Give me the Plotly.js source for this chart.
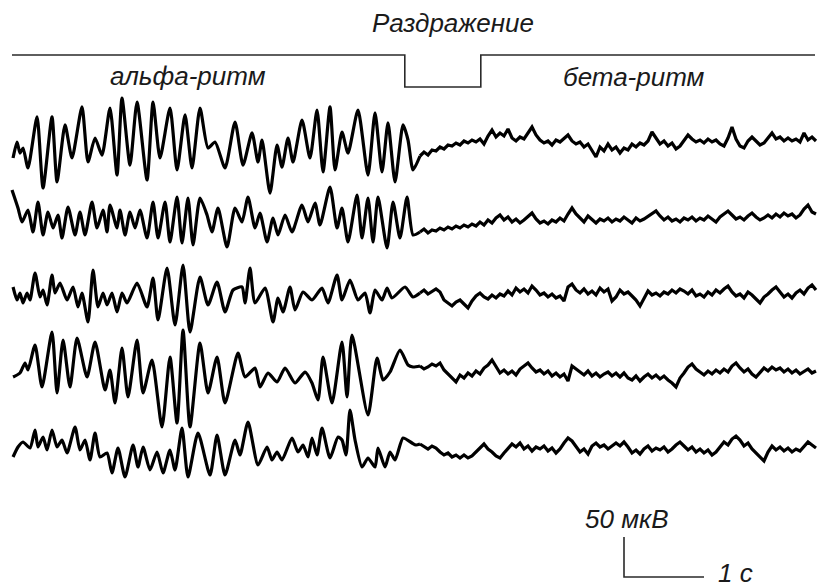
<!DOCTYPE html>
<html>
<head>
<meta charset="utf-8">
<script src="https://cdn.plot.ly/plotly-3.0.1.min.js"></script>
<style>html,body{margin:0;padding:0;background:#fff;}#chart{width:818px;height:587px;}</style>
</head>
<body>
<div id="chart"></div>
<script>
// ---- DATA (time in s, amplitude in µV relative to each channel's baseline) ----
const stimOn = 5.06;   // stimulus onset, s
const stimOff = 6.01;  // stimulus offset, s
const scaleUV = 50;    // vertical calibration, µV
const scaleS = 1;      // horizontal calibration, s

const labelStim = "Раздражение";
const labelAlpha = "альфа-ритм";
const labelBeta = "бета-ритм";
const labelUV = "50 мкВ";
const labelS = "1 с";

// Alpha section: extrema read from the record
const t1a = [0.163,0.213,0.25,0.288,0.35,0.463,0.538,0.65,0.713,0.813,0.9,1.025,1.1,1.188,1.275,1.375,1.463,1.525,1.625,1.713,1.838,1.913,2.0,2.125,2.213,2.313,2.4,2.5,2.6,2.688,2.813,2.938,3.038,3.15,3.225,3.275,3.375,3.463,3.525,3.6,3.663,3.775,3.875,3.963,4.038,4.125,4.188,4.275,4.35,4.475,4.6,4.688,4.775,4.85,4.938,5.038,5.1,5.163];
const v1a = [-22.5,-2.5,-16.3,-10,-35,28.8,-60,28.8,-52.5,18.8,-22.5,41.3,-27.5,2.5,-18.8,40,-43.8,52.5,-31.3,47.5,-50,47.5,-22.5,40,-37.5,31.3,-35,40,-10,-2.5,-35,22.5,-31.3,8.8,-27.5,0,-66.3,-6.3,-33.8,2.5,-27.5,25,-22.5,37.5,-40,41.3,-37.5,10,-16.3,37.5,-43.8,33.8,-40,21.3,-52.5,18.8,0,-37.5];

const t2a = [0.15,0.225,0.275,0.35,0.413,0.475,0.538,0.6,0.663,0.725,0.775,0.85,0.938,1.0,1.063,1.15,1.213,1.288,1.338,1.375,1.463,1.5,1.563,1.625,1.688,1.75,1.838,1.913,1.975,2.063,2.125,2.213,2.275,2.35,2.413,2.5,2.588,2.65,2.725,2.838,2.938,3.025,3.1,3.188,3.25,3.338,3.413,3.475,3.563,3.65,3.775,3.85,3.938,4.0,4.125,4.213,4.275,4.35,4.463,4.525,4.6,4.663,4.725,4.838,4.913,5.0,5.088,5.163];
const v2a = [40,17.5,0,15,-12.5,25,-16.25,12.5,-7.5,8.75,-20,18.75,-16.25,12.5,-16.25,25,-7.5,15,-12.5,21.25,-7.5,15,-16.25,12.5,-7.5,15,-20,25,-20,25,-25,31.25,-26.25,30,-28.75,30,8.75,-12.5,17.5,-31.25,17.5,0,31.25,-7.5,11.25,-25,5,-16.25,8.75,-12.5,21.25,0,23.75,-3.75,43.75,-7.5,17.5,-25,33.75,-20,30,-25,31.25,-32.5,25,-20,31.25,-16.25];

const t3a = [0.163,0.213,0.25,0.288,0.338,0.375,0.438,0.5,0.538,0.588,0.65,0.688,0.75,0.838,0.913,0.975,1.025,1.1,1.163,1.225,1.288,1.338,1.4,1.463,1.525,1.588,1.713,1.838,1.913,1.975,2.088,2.188,2.288,2.375,2.5,2.6,2.713,2.813,2.913,3.025,3.063,3.125,3.188,3.313,3.413,3.475,3.538,3.625,3.688,3.788,3.9,4.025,4.1,4.213,4.275,4.375,4.475,4.563,4.625,4.688,4.775,4.838,4.9,5.063,5.163];
const v3a = [10,-6.25,2.5,-10,2.5,-6.25,27.5,-2.5,6.25,-12.5,25,2.5,15,-6.25,10,-15,2.5,-33.75,31.25,-15,2.5,-12.5,2.5,-21.25,2.5,-10,15,-15,21.25,-31.25,33.75,-37.5,37.5,-46.25,22.5,-12.5,16.25,-21.25,6.25,10,-10,33.75,-10,8.75,-33.75,-3.75,-21.25,10,-18.75,3.75,-6.25,8.75,-10,25,-6.25,18.75,-6.25,2.5,-22.5,6.25,-6.25,8.75,-3.75,10,-2.5];

const t4a = [0.163,0.25,0.313,0.35,0.438,0.525,0.65,0.713,0.788,0.875,0.963,1.088,1.188,1.313,1.375,1.438,1.525,1.6,1.713,1.788,1.9,2.025,2.125,2.213,2.288,2.375,2.5,2.6,2.713,2.813,2.975,3.063,3.188,3.25,3.35,3.463,3.563,3.688,3.813,3.9,3.975,4.038,4.15,4.275,4.338,4.4,4.6,4.713,4.788,4.875,5.0,5.1,5.163];
const v4a = [-6.25,-1.25,11.25,2.5,33.75,-18.75,50,-26.25,40,-18.75,42.5,-6.25,37.5,-22.5,2.5,-38.75,30,-31.25,40,-26.25,15,-68.75,18.75,-63.75,52.5,-68.75,36.25,-26.25,18.75,-38.75,23.75,-6.25,5,-18.75,-1.25,-12.5,5,-13.75,0,-13.75,-35,18.75,-38.75,37.5,-31.25,46.25,-53.75,17.5,-10,0,27.5,8.75,6.25];

const t5a = [0.163,0.225,0.288,0.375,0.438,0.475,0.538,0.588,0.65,0.713,0.775,0.838,0.938,1.0,1.063,1.125,1.188,1.25,1.338,1.4,1.475,1.563,1.663,1.725,1.788,1.875,1.963,2.038,2.125,2.188,2.275,2.35,2.475,2.625,2.713,2.813,2.938,3.0,3.1,3.225,3.338,3.4,3.463,3.525,3.65,3.725,3.788,3.85,3.9,3.963,4.025,4.125,4.225,4.275,4.325,4.375,4.438,4.525,4.6,4.688,4.725,4.813,4.875,4.938,5.038,5.15,5.2];
const v5a = [-11.25,1.25,7.5,0,22.5,1.25,13.75,-2.5,22.5,1.25,10,-6.25,26.25,-2.5,10,-15,18.75,-11.25,-6.25,-31.25,0,-36.25,3.75,-23.75,1.25,-27.5,-5,-31.25,-2.5,-27.5,25,-36.25,18.75,-33.75,16.25,-33.75,10,-8.75,32.5,-21.25,1.25,-15,-5,-15,12.5,-5,3.75,-11.25,12.5,-8.75,25,-12.5,13.75,10,-8.75,47.5,10,-23.75,-12.5,-23.75,0,-23.75,-5,-15,12.5,6.25,3.75];

// Beta section: sampled every 0.05 s
const tBeta = [5.25,5.30,5.35,5.40,5.45,5.50,5.55,5.60,5.65,5.70,
  5.75,5.80,5.85,5.90,5.95,6.00,6.05,6.10,6.15,6.20,
  6.25,6.30,6.35,6.40,6.45,6.50,6.55,6.60,6.65,6.70,
  6.75,6.80,6.85,6.90,6.95,7.00,7.05,7.10,7.15,7.20,
  7.25,7.30,7.35,7.40,7.45,7.50,7.55,7.60,7.65,7.70,
  7.75,7.80,7.85,7.90,7.95,8.00,8.05,8.10,8.15,8.20,
  8.25,8.30,8.35,8.40,8.45,8.50,8.55,8.60,8.65,8.70,
  8.75,8.80,8.85,8.90,8.95,9.00,9.05,9.10,9.15,9.20,
  9.25,9.30,9.35,9.40,9.45,9.50,9.55,9.60,9.65,9.70,
  9.75,9.80,9.85,9.90,9.95,10.00,10.05,10.10,10.15,10.20];

const v1b = [-20,-15,-18.75,-12.5,-13.75,-8.75,-11.25,-6.25,-7.5,-3.75,
  -6.25,-1.25,-3.75,0,-2.5,1.25,-5,5,12.5,3.75,
  8.75,5,13.75,2.5,-1.25,3.75,1.25,8.75,16.25,6.25,
  0,-3.75,-1.25,-6.25,0,-2.5,2.5,6.25,-1.25,-5,
  -2.5,-8.75,-5,-12.5,-21.25,-8.75,-13.75,-5,-12.5,-8.75,
  -16.25,-10,-12.5,-5,-8.75,-3.75,-6.25,-1.25,10,2.5,
  -5,-1.25,-7.5,-3.75,-11.25,-7.5,0,6.25,1.25,-2.5,
  0,-3.75,1.25,-2.5,0,-5,-7.5,2.5,16.25,1.25,
  -7.5,-10,-1.25,3.75,-1.25,-6.25,-3.75,2.5,8.75,1.25,
  3.75,-1.25,2.5,-1.25,1.25,-2.5,8.75,0,3.75,-1.25];

const v2b = [-12.5,-8.75,-13.75,-10,-11.25,-7.5,-10,-6.25,-8.75,-5,
  -7.5,-3.75,-6.25,-2.5,-5,0,-3.75,2.5,-1.25,5,
  8.75,2.5,6.25,0,3.75,-1.25,2.5,7.5,11.25,3.75,
  -1.25,1.25,-2.5,2.5,0,5,1.25,10,17.5,10,
  5,0,7.5,2.5,-1.25,3.75,1.25,5,0,3.75,
  1.25,6.25,2.5,-1.25,5,1.25,3.75,7.5,10,13.75,
  7.5,2.5,6.25,1.25,3.75,0,5,2.5,6.25,1.25,
  5,2.5,7.5,3.75,0,6.25,10,13.75,8.75,3.75,
  6.25,2.5,7.5,11.25,6.25,2.5,5,8.75,5,10,
  6.25,11.25,7.5,10,5,8.75,16.25,21.25,12.5,10];

const v3b = [2.5,6.25,1.25,5,7.5,3.75,-6.25,-10,-13.75,-8.75,
  -6.25,-11.25,-16.25,-7.5,-1.25,2.5,-2.5,-5,0,-3.75,
  1.25,-1.25,5,0,8.75,3.75,7.5,2.5,11.25,6.25,
  0,2.5,-2.5,1.25,-3.75,-1.25,-7.5,10,13.75,6.25,
  2.5,7.5,1.25,5,0,8.75,3.75,7.5,-7.5,-2.5,
  6.25,1.25,3.75,-1.25,-6.25,-13.75,-3.75,5,0,2.5,
  -1.25,3.75,1.25,6.25,2.5,7.5,5,1.25,6.25,-1.25,
  1.25,-2.5,3.75,0,6.25,2.5,7.5,11.25,3.75,-1.25,
  1.25,-3.75,3.75,0,-5,-10,-2.5,1.25,6.25,10,
  3.75,-2.5,1.25,-3.75,2.5,6.25,1.25,8.75,12.5,6.25];

const v4b = [7.5,3.75,6.25,10,7.5,11.25,2.5,-2.5,-8.75,-12.5,
  -3.75,-7.5,-1.25,-5,1.25,-2.5,5,8.75,15,6.25,
  -1.25,2.5,-2.5,1.25,-3.75,3.75,7.5,11.25,5,0,
  2.5,-2.5,1.25,-5,-1.25,-6.25,-2.5,-11.25,7.5,3.75,
  0,-3.75,1.25,-5,-1.25,-6.25,-2.5,0,-5,-1.25,
  -6.25,-1.25,-7.5,-10,-5,-11.25,-6.25,-2.5,-7.5,-3.75,
  -8.75,-5,-10,-13.75,-18.75,-7.5,-1.25,6.25,10,3.75,
  0,-3.75,1.25,-2.5,2.5,-1.25,3.75,0,7.5,11.25,
  5,0,3.75,-2.5,-6.25,-1.25,5,1.25,6.25,2.5,
  5,0,3.75,-1.25,2.5,-2.5,1.25,3.75,-1.25,1.25];

const v5b = [5,1.25,-1.25,2.5,0,-5,-8.75,-6.25,-11.25,-8.75,
  -12.5,-8.75,-12.5,-10,-5,1.25,5,-1.25,-5,-10,
  -12.5,-6.25,-1.25,5,1.25,6.25,-1.25,2.5,-3.75,1.25,
  -1.25,2.5,-3.75,0,-6.25,-1.25,6.25,12.5,8.75,2.5,
  -5,-1.25,-7.5,2.5,6.25,1.25,3.75,-1.25,2.5,6.25,
  2.5,7.5,1.25,-6.25,-2.5,-7.5,-1.25,2.5,-3.75,0,
  -2.5,1.25,-5,-1.25,3.75,7.5,2.5,-2.5,1.25,-5,
  -1.25,-6.25,-2.5,-8.75,-5,1.25,7.5,3.75,11.25,15,
  10,2.5,6.25,-1.25,-6.25,-12.5,-16.25,-5,2.5,-2.5,
  1.25,-3.75,0,-5,-1.25,-3.75,2.5,7.5,3.75,0];

// ---- LAYOUT CONSTANTS (positions, not data) ----
const W = 818, H = 587;
const pxPerS = 80;            // horizontal scale
const uvPerPx = 1.25;         // vertical scale (50 µV = 40 px)
const xMax = W / pxPerS;
const yMax = H * uvPerPx;
const pxY = p => (H - p) * uvPerPx;   // pixel row -> y-axis value
const baseRows = [140, 222, 295, 372, 448];
const offsets = baseRows.map(pxY);

const channels = [
  [t1a, v1a, v1b], [t2a, v2a, v2b], [t3a, v3a, v3b], [t4a, v4a, v4b], [t5a, v5a, v5b]
];

const traces = [];
channels.forEach((c, i) => {
  if (c[0].length !== c[1].length || c[2].length !== tBeta.length) console.error('length mismatch ch' + (i + 1));
  // alpha part (smooth waves), joined to the first beta sample
  traces.push({
    x: c[0].concat([tBeta[0]]),
    y: c[1].concat([c[2][0]]).map(v => v + offsets[i]),
    type: 'scatter', mode: 'lines',
    line: {color: '#000', width: 3.2, shape: 'spline', smoothing: 0.6},
    hoverinfo: 'skip'
  });
  // beta part (jagged low-amplitude activity)
  traces.push({
    x: tBeta,
    y: c[2].map(v => v + offsets[i]),
    type: 'scatter', mode: 'lines',
    line: {color: '#000', width: 3.2, shape: 'linear'},
    hoverinfo: 'skip'
  });
});

// Stimulus marker line
const stimHi = pxY(55), stimLo = pxY(87);
traces.push({
  x: [12 / pxPerS, stimOn, stimOn, stimOff, stimOff, 815 / pxPerS],
  y: [stimHi, stimHi, stimLo, stimLo, stimHi, stimHi],
  type: 'scatter', mode: 'lines',
  line: {color: '#2a2a2a', width: 1.6}, hoverinfo: 'skip'
});

// Calibration bar
const calX = 624 / pxPerS, calY = pxY(577);
traces.push({
  x: [calX, calX, calX + scaleS],
  y: [calY + scaleUV, calY, calY],
  type: 'scatter', mode: 'lines',
  line: {color: '#2a2a2a', width: 1.6}, hoverinfo: 'skip'
});

const fnt = {family: 'Liberation Sans, Arial, sans-serif', size: 26, color: '#1a1a1a', style: 'italic'};
const ann = (txt, px, py, xa) => ({
  text: '<i>' + txt + '</i>', xref: 'paper', yref: 'paper',
  x: px / W, y: 1 - py / H, xanchor: xa || 'center', yanchor: 'middle',
  showarrow: false, font: fnt
});

const layout = {
  width: W, height: H,
  margin: {l: 0, r: 0, t: 0, b: 0},
  paper_bgcolor: '#fff', plot_bgcolor: '#fff',
  showlegend: false,
  xaxis: {range: [0, xMax], visible: false, fixedrange: true},
  yaxis: {range: [0, yMax], visible: false, fixedrange: true},
  annotations: [
    ann(labelStim, 453, 23),
    ann(labelAlpha, 188, 76),
    ann(labelBeta, 634, 77),
    ann(labelUV, 627, 519),
    ann(labelS, 716, 573, 'left')
  ]
};

Plotly.newPlot('chart', traces, layout, {staticPlot: true, displayModeBar: false});
</script>
</body>
</html>
